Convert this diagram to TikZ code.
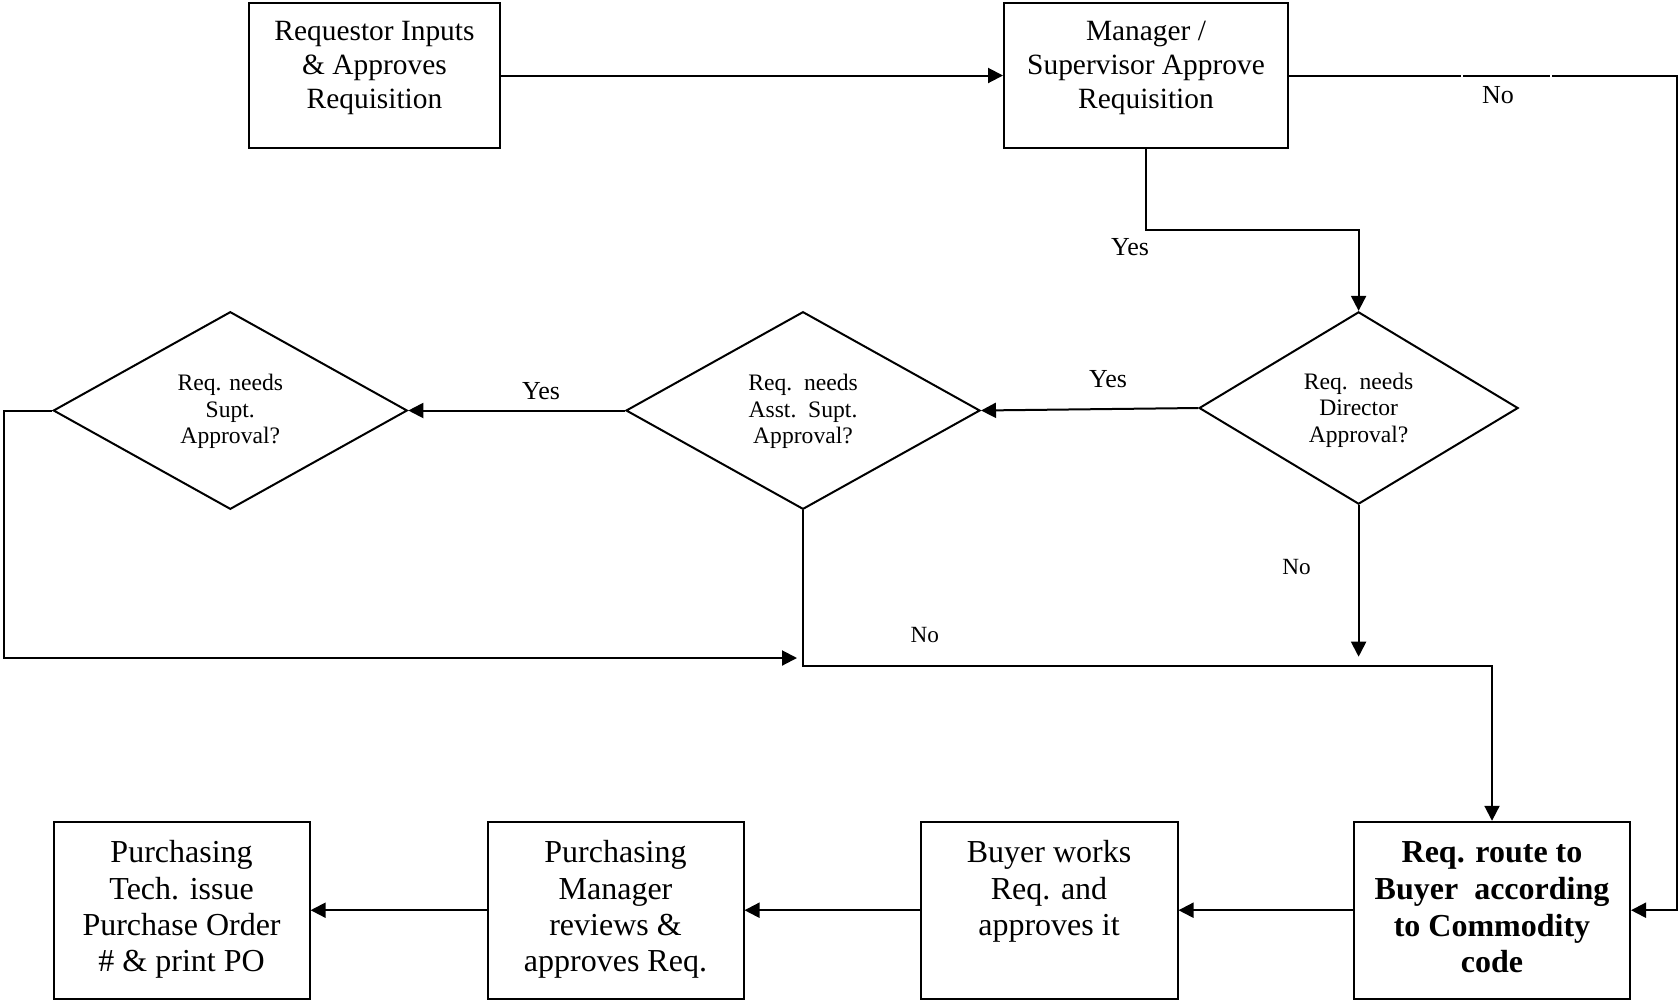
\documentclass[tikz,border=0pt]{standalone}
\usepackage{fontspec}
\setmainfont{Liberation Serif}
\usetikzlibrary{shapes.geometric,arrows.meta}
\begin{document}
\begin{tikzpicture}[x=0.5pt,y=-0.5pt,
  line width=1pt,
  box/.style={draw, rectangle, inner sep=0pt},
  dec/.style={draw, diamond, inner sep=0pt, aspect=1.7},
  dtxt/.style={align=center, font=\fontsize{11.8}{13.3}\selectfont},
  toptxt/.style={align=center, font=\fontsize{14.7}{16.9}\selectfont},
  bottxt/.style={align=center, font=\fontsize{16}{18.2}\selectfont},
  boldtxt/.style={align=center, font=\fontsize{16}{18.4}\selectfont\bfseries},
  lbl/.style={font=\fontsize{13}{15}\selectfont},
  slbl/.style={font=\fontsize{11.6}{14}\selectfont},
  arr/.style={-{Triangle[length=7.5pt,width=7.5pt]}}
]
\useasboundingbox (0,0) rectangle (1680,1002);

% top boxes
\node[box, minimum width=125.9pt, minimum height=72.35pt] (req) at (374.5,75.5) {};
\node[toptxt] at (374.5,68.2) {Requestor Inputs\\\& Approves\\Requisition};
\node[box, minimum width=142pt, minimum height=72.35pt] (mgr) at (1146,75.5) {};
\node[toptxt] at (1146,68.2) {Manager /\\Supervisor Approve\\Requisition};

% diamonds
\node[dec, minimum width=159.5pt, minimum height=96.15pt] (dir) at (1358.6,408) {};
\node[dtxt] at (1358.6,410) {Req.\ \ needs\\Director\\Approval?};
\node[dec, minimum width=177pt, minimum height=98.8pt] (asst) at (803,410.5) {};
\node[dtxt] at (803,411.5) {Req.\ \ needs\\Asst.\ \ Supt.\\Approval?};
\node[dec, minimum width=177pt, minimum height=98.8pt] (supt) at (230.3,410.5) {};
\node[dtxt] at (230.3,411.5) {Req. needs\\Supt.\\Approval?};

% bottom boxes
\node[box, minimum width=128pt, minimum height=88.4pt] (tech) at (181.6,910.2) {};
\node[bottxt] at (181.6,909.6) {Purchasing\\Tech. issue\\Purchase Order\\\# \& print PO};
\node[box, minimum width=128pt, minimum height=88.4pt] (pm) at (615.5,910.2) {};
\node[bottxt] at (615.5,909.6) {Purchasing\\Manager\\reviews \&\\approves Req.};
\node[box, minimum width=128.5pt, minimum height=88.4pt] (buy) at (1049,910.2) {};
\node[bottxt] at (1049,891.4) {Buyer works\\Req. and\\approves it};
\node[box, minimum width=138pt, minimum height=88.4pt] (rte) at (1492,910.2) {};
\node[boldtxt] at (1492,907.4) {Req. route to\\Buyer\ \ according\\to Commodity\\code};

% connectors
\draw[arr] (req) -- (mgr);

\coordinate (rx) at (1677,75.5);
\draw[arr] (mgr.east) -- (rx) |- (rte.east);
\fill[white] (1460.5,72) rectangle (1463,79);
\fill[white] (1549.5,72) rectangle (1552,79);
\node[lbl] at (1498,95) {No};

\draw[arr] (mgr.south) -- ++(0,81.1) -| (dir.north);
\node[lbl] at (1130,247.5) {Yes};

\draw[arr] (dir.west) -- (asst.east);
\node[lbl] at (1108,379) {Yes};
\draw[arr] (asst.west) -- (supt.east);
\node[lbl] at (541,391) {Yes};

\coordinate (lend) at (797,658);
\draw[arr] (supt.west) -- ++(-48.3,0) |- (lend);

\draw[arr] (asst.south) -- ++(0,155.7) -| (rte.north);
\node[slbl] at (924.7,635.3) {No};

\coordinate (dend) at (1358.6,656.7);
\draw[arr] (dir.south) -- (dend);
\node[slbl] at (1296.5,567) {No};

\draw[arr] (rte) -- (buy);
\draw[arr] (buy) -- (pm);
\draw[arr] (pm) -- (tech);
\end{tikzpicture}
\end{document}
